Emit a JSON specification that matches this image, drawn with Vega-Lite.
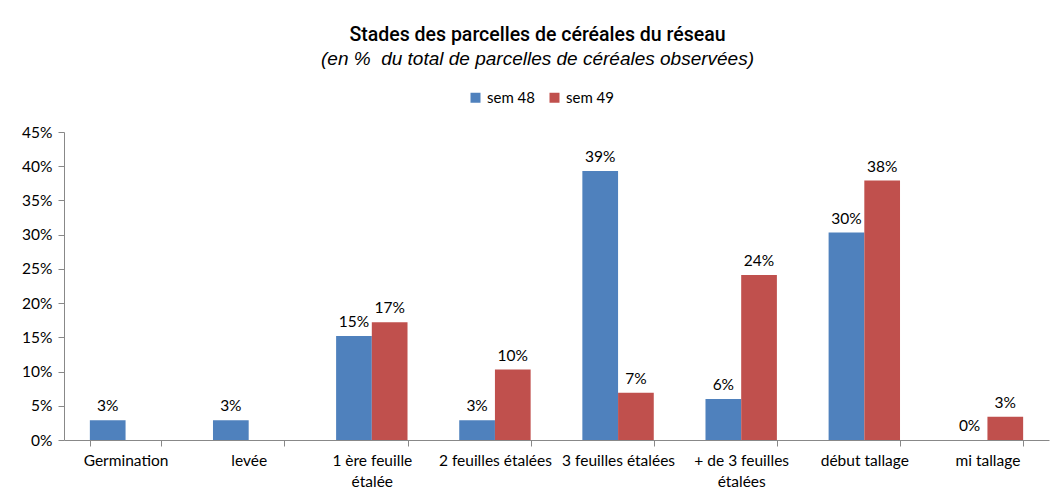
{
  "$schema": "https://vega.github.io/schema/vega-lite/v6.json",
  "width": 985,
  "height": 308,
  "autosize": {"type": "none"},
  "padding": {"left": 64, "top": 132, "right": 7, "bottom": 55},
  "background": "white",
  "title": {
    "text": "Stades des parcelles de céréales du réseau",
    "subtitle": "(en % \u00a0du total de parcelles de céréales observées)",
    "anchor": "middle",
    "dx": -19,
    "offset": 20,
    "font": "Roboto",
    "fontSize": 19.5,
    "fontWeight": 500,
    "color": "#000000",
    "subtitleFont": "Liberation Sans",
    "subtitleFontSize": 19,
    "subtitleFontStyle": "italic",
    "subtitleColor": "#000000",
    "subtitlePadding": 5
  },
  "data": {
    "values": [
      {"stade": "Germination", "sem": "sem 48", "valeur": 0.029},
      {"stade": "levée", "sem": "sem 48", "valeur": 0.029},
      {"stade": "1 ère feuille étalée", "sem": "sem 48", "valeur": 0.152},
      {"stade": "1 ère feuille étalée", "sem": "sem 49", "valeur": 0.172},
      {"stade": "2 feuilles étalées", "sem": "sem 48", "valeur": 0.029},
      {"stade": "2 feuilles étalées", "sem": "sem 49", "valeur": 0.103},
      {"stade": "3 feuilles étalées", "sem": "sem 48", "valeur": 0.393},
      {"stade": "3 feuilles étalées", "sem": "sem 49", "valeur": 0.069},
      {"stade": "+ de 3 feuilles étalées", "sem": "sem 48", "valeur": 0.06},
      {"stade": "+ de 3 feuilles étalées", "sem": "sem 49", "valeur": 0.241},
      {"stade": "début tallage", "sem": "sem 48", "valeur": 0.303},
      {"stade": "début tallage", "sem": "sem 49", "valeur": 0.379},
      {"stade": "mi tallage", "sem": "sem 48", "valeur": 0},
      {"stade": "mi tallage", "sem": "sem 49", "valeur": 0.034}
    ]
  },
  "encoding": {
    "x": {
      "field": "stade",
      "type": "nominal",
      "sort": null,
      "scale": {"paddingInner": 0.42, "paddingOuter": 0.21},
      "axis": {
        "title": null,
        "labelAngle": 0,
        "tickBand": "extent",
        "tickSize": 6,
        "tickColor": "#888888",
        "domainColor": "#888888",
        "labelFont": "Lato",
        "labelFontSize": 15.5,
        "labelColor": "#000000",
        "labelPadding": 7,
        "labelLineHeight": 21,
        "labelExpr": "datum.value == '1 ère feuille étalée' ? ['1 ère feuille', 'étalée'] : datum.value == '+ de 3 feuilles étalées' ? ['+ de 3 feuilles', 'étalées'] : datum.value"
      }
    },
    "xOffset": {"field": "sem", "type": "nominal"},
    "y": {
      "field": "valeur",
      "type": "quantitative",
      "scale": {"domain": [0, 0.45], "nice": false},
      "axis": {
        "title": null,
        "format": ".0%",
        "values": [0, 0.05, 0.1, 0.15, 0.2, 0.25, 0.3, 0.35, 0.4, 0.45],
        "grid": false,
        "tickSize": 6,
        "tickColor": "#888888",
        "domainColor": "#888888",
        "labelFont": "Lato",
        "labelFontSize": 15.5,
        "labelColor": "#000000",
        "labelPadding": 6
      }
    }
  },
  "layer": [
    {
      "mark": {"type": "bar"},
      "encoding": {
        "color": {
          "field": "sem",
          "type": "nominal",
          "scale": {"domain": ["sem 48", "sem 49"], "range": ["#4F81BD", "#C0504D"]},
          "legend": {
            "title": null,
            "orient": "none",
            "direction": "horizontal",
            "legendX": 404,
            "legendY": -42,
            "symbolType": "square",
            "symbolSize": 100,
            "symbolStrokeWidth": 0,
            "labelFont": "Lato",
            "labelFontSize": 15,
            "labelColor": "#000000",
            "labelOffset": 4,
            "columnPadding": 12
          }
        }
      }
    },
    {
      "mark": {"type": "text", "baseline": "bottom", "dy": -6, "font": "Lato", "fontSize": 15.5, "color": "#000000"},
      "encoding": {
        "text": {"field": "valeur", "type": "quantitative", "format": ".0%"}
      }
    }
  ],
  "config": {
    "view": {"stroke": null}
  }
}
